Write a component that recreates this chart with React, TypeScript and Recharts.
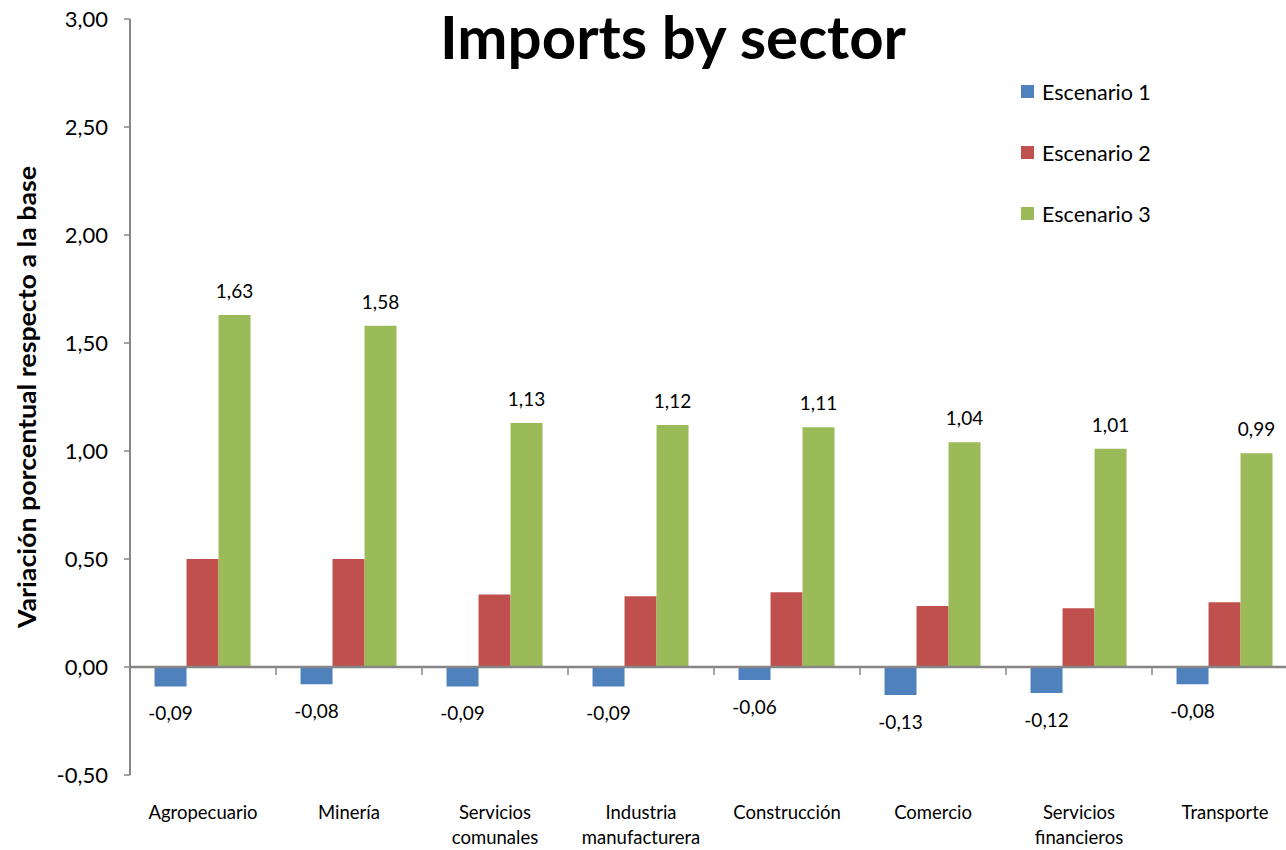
import { BarChart, Bar, XAxis, YAxis, LabelList, ReferenceLine } from 'recharts';

// ── Datos ─────────────────────────────────────────────────────────────────────

const sectores = [
  'Agropecuario',
  'Minería',
  'Servicios comunales',
  'Industria manufacturera',
  'Construcción',
  'Comercio',
  'Servicios financieros',
  'Transporte',
];
const escenario1 = [-0.09, -0.08, -0.09, -0.09, -0.06, -0.13, -0.12, -0.08];
const escenario2 = [0.5, 0.5, 0.336, 0.327, 0.346, 0.282, 0.272, 0.3];
const escenario3 = [1.63, 1.58, 1.13, 1.12, 1.11, 1.04, 1.01, 0.99];
const yTicks = [-0.5, 0, 0.5, 1, 1.5, 2, 2.5, 3];
const series = ['Escenario 1', 'Escenario 2', 'Escenario 3'];

const data = sectores.map((s, i) => ({
  sector: s,
  e1: escenario1[i],
  e2: escenario2[i],
  e3: escenario3[i],
}));

const FONT = 'Lato, "Open Sans", sans-serif';
const AXIS_GRAY = '#868686';
const COLORS = ['#4F81BD', '#C0504D', '#9BBB59'];

const fmt = (v: number) => v.toFixed(2).replace('.', ',');

// ── Piezas personalizadas ─────────────────────────────────────────────────────

const SectorTick = ({ x, y, payload }: any) => {
  const lines = String(payload.value).split(' ');
  return (
    <g transform={`translate(${x},${y})`}>
      {lines.map((l, i) => (
        <text
          key={i}
          x={0}
          y={36 + i * 25}
          textAnchor="middle"
          fontSize={18.5}
          fontFamily={FONT}
          fill="#000"
        >
          {l}
        </text>
      ))}
    </g>
  );
};

const LabelAbajo = ({ x, y, width, height, value }: any) => {
  const bottom = Math.max(y, y + height);
  return (
    <text x={x + width / 2} y={bottom + 34} textAnchor="middle" fontSize={19} fontFamily={FONT} fill="#000">
      {fmt(value)}
    </text>
  );
};

const LabelArriba = ({ x, y, width, height, value }: any) => {
  const top = Math.min(y, y + height);
  return (
    <text x={x + width / 2} y={top - 17} textAnchor="middle" fontSize={19} fontFamily={FONT} fill="#000">
      {fmt(value)}
    </text>
  );
};

// línea del cero con marcas entre categorías
const ZeroLine = ({ x1, y1, x2, y2 }: any) => {
  const band = (x2 - x1) / sectores.length;
  return (
    <g>
      <line x1={x1} y1={y1} x2={x2} y2={y2} stroke={AXIS_GRAY} strokeWidth={2.5} />
      {sectores.slice(1).map((_, i) => (
        <line
          key={i}
          x1={x1 + band * (i + 1)}
          x2={x1 + band * (i + 1)}
          y1={y1}
          y2={y1 + 8}
          stroke={AXIS_GRAY}
          strokeWidth={1.5}
        />
      ))}
    </g>
  );
};

const EjeYLabel = ({ viewBox }: any) => {
  const cx = viewBox.x + 36;
  const cy = viewBox.y + viewBox.height / 2;
  return (
    <text
      x={cx}
      y={cy}
      transform={`rotate(-90 ${cx} ${cy})`}
      textAnchor="middle"
      fontSize={24}
      fontWeight={700}
      fontFamily={FONT}
      textLength={462}
      lengthAdjust="spacingAndGlyphs"
      fill="#000"
    >
      Variación porcentual respecto a la base
    </text>
  );
};

// ── Componente principal ──────────────────────────────────────────────────────

export default function App() {
  return (
    <div style={{ position: 'absolute', left: 0, top: 0, width: 1286, height: 850, overflow: 'hidden', background: '#fff' }}>
      <svg width={1286} height={80} style={{ position: 'absolute', left: 0, top: 0, zIndex: 2 }}>
        <text x={673} y={59} textAnchor="middle" fontSize={60} fontWeight={700} fontFamily={FONT} fill="#000">
          Imports by sector
        </text>
      </svg>
      <div style={{ position: 'absolute', left: 1021, top: 61, zIndex: 2, fontFamily: FONT }}>
        {series.map((s, i) => (
          <div key={s} style={{ display: 'flex', alignItems: 'center', height: 61 }}>
            <span style={{ width: 13, height: 13, background: COLORS[i], marginRight: 8, display: 'inline-block' }} />
            <span style={{ fontSize: 21.5, color: '#000' }}>{s}</span>
          </div>
        ))}
      </div>
      <BarChart
        width={1300}
        height={850}
        data={data}
        margin={{ top: 19, right: 2, left: 0, bottom: 0 }}
        barCategoryGap="16.8%"
        barGap={0}
      >
        <XAxis
          dataKey="sector"
          height={75}
          axisLine={false}
          tickLine={false}
          tick={<SectorTick />}
          interval={0}
        />
        <YAxis
          width={130}
          domain={[-0.5, 3]}
          ticks={yTicks}
          tickFormatter={fmt}
          tick={{ fontSize: 22, fill: '#000', fontFamily: FONT }}
          axisLine={{ stroke: AXIS_GRAY, strokeWidth: 2 }}
          tickLine={{ stroke: AXIS_GRAY, strokeWidth: 1.5 }}
          tickSize={6}
          tickMargin={16}
          label={{ content: <EjeYLabel /> }}
        />
        <Bar dataKey="e1" name={series[0]} fill={COLORS[0]} isAnimationActive={false}>
          <LabelList dataKey="e1" content={<LabelAbajo />} />
        </Bar>
        <Bar dataKey="e2" name={series[1]} fill={COLORS[1]} isAnimationActive={false} />
        <Bar dataKey="e3" name={series[2]} fill={COLORS[2]} isAnimationActive={false}>
          <LabelList dataKey="e3" content={<LabelArriba />} />
        </Bar>
        <ReferenceLine y={0} shape={<ZeroLine />} />
      </BarChart>
    </div>
  );
}
